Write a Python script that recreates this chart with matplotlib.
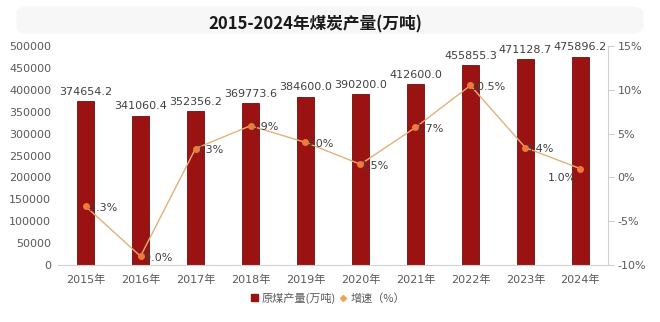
import matplotlib
matplotlib.use("Agg")
import matplotlib.pyplot as plt
from matplotlib.lines import Line2D
from matplotlib.patches import Patch, FancyBboxPatch

plt.rcParams['font.family'] = ['DejaVu Sans', 'Noto Sans CJK SC']

years = ["2015年", "2016年", "2017年", "2018年", "2019年",
         "2020年", "2021年", "2022年", "2023年", "2024年"]
output = [374654.2, 341060.4, 352356.2, 369773.6, 384600.0,
          390200.0, 412600.0, 455855.3, 471128.7, 475896.2]
growth = [-3.3, -9.0, 3.3, 5.9, 4.0, 1.5, 5.7, 10.5, 3.4, 1.0]

bar_color = "#9A1212"
bar_edge = "#6E0C0C"
line_color = "#E3B07A"
marker_color = "#F07A3A"
text_color = "#404040"
tick_color = "#595959"

fig = plt.figure(figsize=(6.6, 3.22), dpi=100)

# faint title band
band = FancyBboxPatch((0.03, 0.90), 0.94, 0.075, boxstyle="round,pad=0.005,rounding_size=0.02",
                      transform=fig.transFigure, facecolor="#f7f7f7", edgecolor="none", zorder=0)
fig.patches.append(band)

ax = fig.add_axes([0.088, 0.177, 0.833, 0.68])
ax.patch.set_alpha(0)
x = list(range(len(years)))

ax.bar(x, output, width=0.3, color=bar_color, edgecolor=bar_edge, linewidth=0.6, zorder=2)
for xi, v in zip(x, output):
    ax.annotate(f"{v:.1f}", (xi, v), xytext=(0, 3), textcoords="offset points",
                ha="center", va="bottom", fontsize=8, color=text_color, zorder=5)

ax.set_xlim(-0.5, len(years) - 0.5)
ax.set_ylim(0, 500000)
ax.set_yticks(range(0, 500001, 50000))
ax.set_xticks(x)
ax.set_xticklabels(years, fontsize=8, color=tick_color,
                   fontfamily=['DejaVu Sans', 'Noto Sans CJK SC'])
ax.tick_params(axis='y', labelsize=8, colors=tick_color, length=0, pad=5)
ax.tick_params(axis='x', length=0, pad=7)
for s in ['top', 'right', 'left']:
    ax.spines[s].set_visible(False)
ax.spines['bottom'].set_color("#d0d0d0")

ax2 = ax.twinx()
ax2.plot(x, growth, color=line_color, linewidth=1.0, zorder=3)
ax2.plot(x, growth, linestyle='none', marker='o', markersize=4,
         color=marker_color, zorder=6)
ax2.set_ylim(-10, 15)
ax2.set_yticks(range(-10, 16, 5))
ax2.set_yticklabels([f"{t}%" for t in range(-10, 16, 5)])
ax2.tick_params(axis='y', labelsize=8, colors=tick_color, length=4, pad=3)
ax2.tick_params(axis='y', color="#d0d0d0")
for s in ['top', 'left', 'bottom']:
    ax2.spines[s].set_visible(False)
ax2.spines['right'].set_color("#d0d0d0")

for i, (xi, g) in enumerate(zip(x, growth)):
    if i == len(x) - 1:
        ax2.annotate(f"{g:.1f}%", (xi, g), xytext=(-3, -7), textcoords="offset points",
                     ha="right", va="center", fontsize=8, color=text_color, zorder=4)
    else:
        ax2.annotate(f"{g:.1f}%", (xi, g), xytext=(0, -1), textcoords="offset points",
                     ha="left", va="center", fontsize=8, color=text_color, zorder=4)

fig.text(0.477, 0.925, "2015-2024年煤炭产量(万吨)", ha="center", va="center",
         fontsize=12, fontweight="bold", color="#1a1a1a",
         fontfamily=['Noto Sans CJK SC', 'DejaVu Sans'])

handles = [Patch(facecolor=bar_color, edgecolor=bar_color, label="原煤产量(万吨)"),
           Line2D([0], [0], color=line_color, marker='D', markersize=3,
                  markerfacecolor="#F0A050", markeredgecolor="#F0A050",
                  linewidth=0, label="增速（%）")]
leg = fig.legend(handles=handles, loc="center", bbox_to_anchor=(0.497, 0.075), ncol=2,
                 frameon=False, handlelength=0.6, handleheight=0.6,
                 handletextpad=0.3, columnspacing=0.4,
                 prop={'family': ['Noto Sans CJK SC', 'DejaVu Sans'], 'size': 8})
for t in leg.get_texts():
    t.set_color(tick_color)

fig.savefig("out.png", dpi=100)
